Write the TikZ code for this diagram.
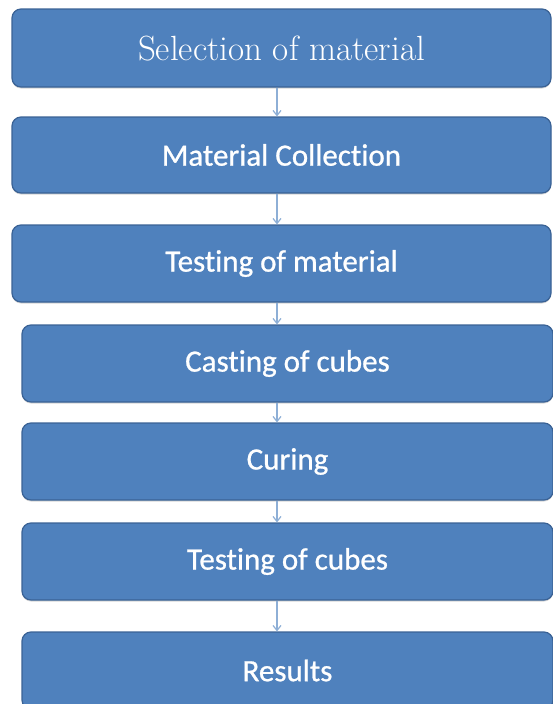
\documentclass[tikz,border=0pt]{standalone}
\usepackage{fontspec}
\setsansfont{Carlito}[Ligatures=NoCommon, FakeBold=0.8]
\usepackage{tikz}
\usetikzlibrary{arrows.meta, calc, shadows}

\definecolor{boxfill}{HTML}{4F81BD}
\definecolor{boxline}{HTML}{3A6295}
\definecolor{arrowline}{HTML}{8EAFD6}

\tikzset{
  stage/.style={draw=boxline, line width=1.2pt, fill=boxfill, rounded corners=9pt, text=white, minimum height=77pt, inner sep=0pt,
    drop shadow={shadow xshift=0pt, shadow yshift=-1.5pt, fill=black!45, opacity=0.35},
    font=\sffamily\fontsize{31}{35}\selectfont},
  flow/.style={arrowline, line width=1.2pt, -{Straight Barb[length=5pt,width=8pt]}}
}

\begin{document}
\begin{tikzpicture}[x=1pt, y=-1pt]
\useasboundingbox (0,0) rectangle (552,704);
% Stages, top to bottom
\node[stage, minimum width=539pt, minimum height=78pt, font=\rmfamily\fontsize{35}{40}\selectfont] (select) at (281.5,48) {Selection of material};
\node[stage, minimum width=539pt, minimum height=76pt] (collect) at (281.5,155) {Material Collection};
\node[stage, minimum width=539pt] (testmat) at (281.5,263.5) {Testing of material};
\node[stage, minimum width=531pt] (casting) at (287.5,363.5) {Casting of cubes};
\node[stage, minimum width=531pt] (curing) at (287.5,461.5) {Curing};
\node[stage, minimum width=531pt] (testcube) at (287.5,561.5) {Testing of cubes};
\node[stage, minimum width=531pt] (results) at (287.5,670.5) {Results};
% Arrows run down one common line
\coordinate (axis) at (277,0);
\draw[flow] (select.south -| axis) -- (collect.north -| axis);
\draw[flow] (collect.south -| axis) -- (testmat.north -| axis);
\draw[flow] (testmat.south -| axis) -- (casting.north -| axis);
\draw[flow] (casting.south -| axis) -- (curing.north -| axis);
\draw[flow] (curing.south -| axis) -- (testcube.north -| axis);
\draw[flow] (testcube.south -| axis) -- (results.north -| axis);
\end{tikzpicture}
\end{document}
